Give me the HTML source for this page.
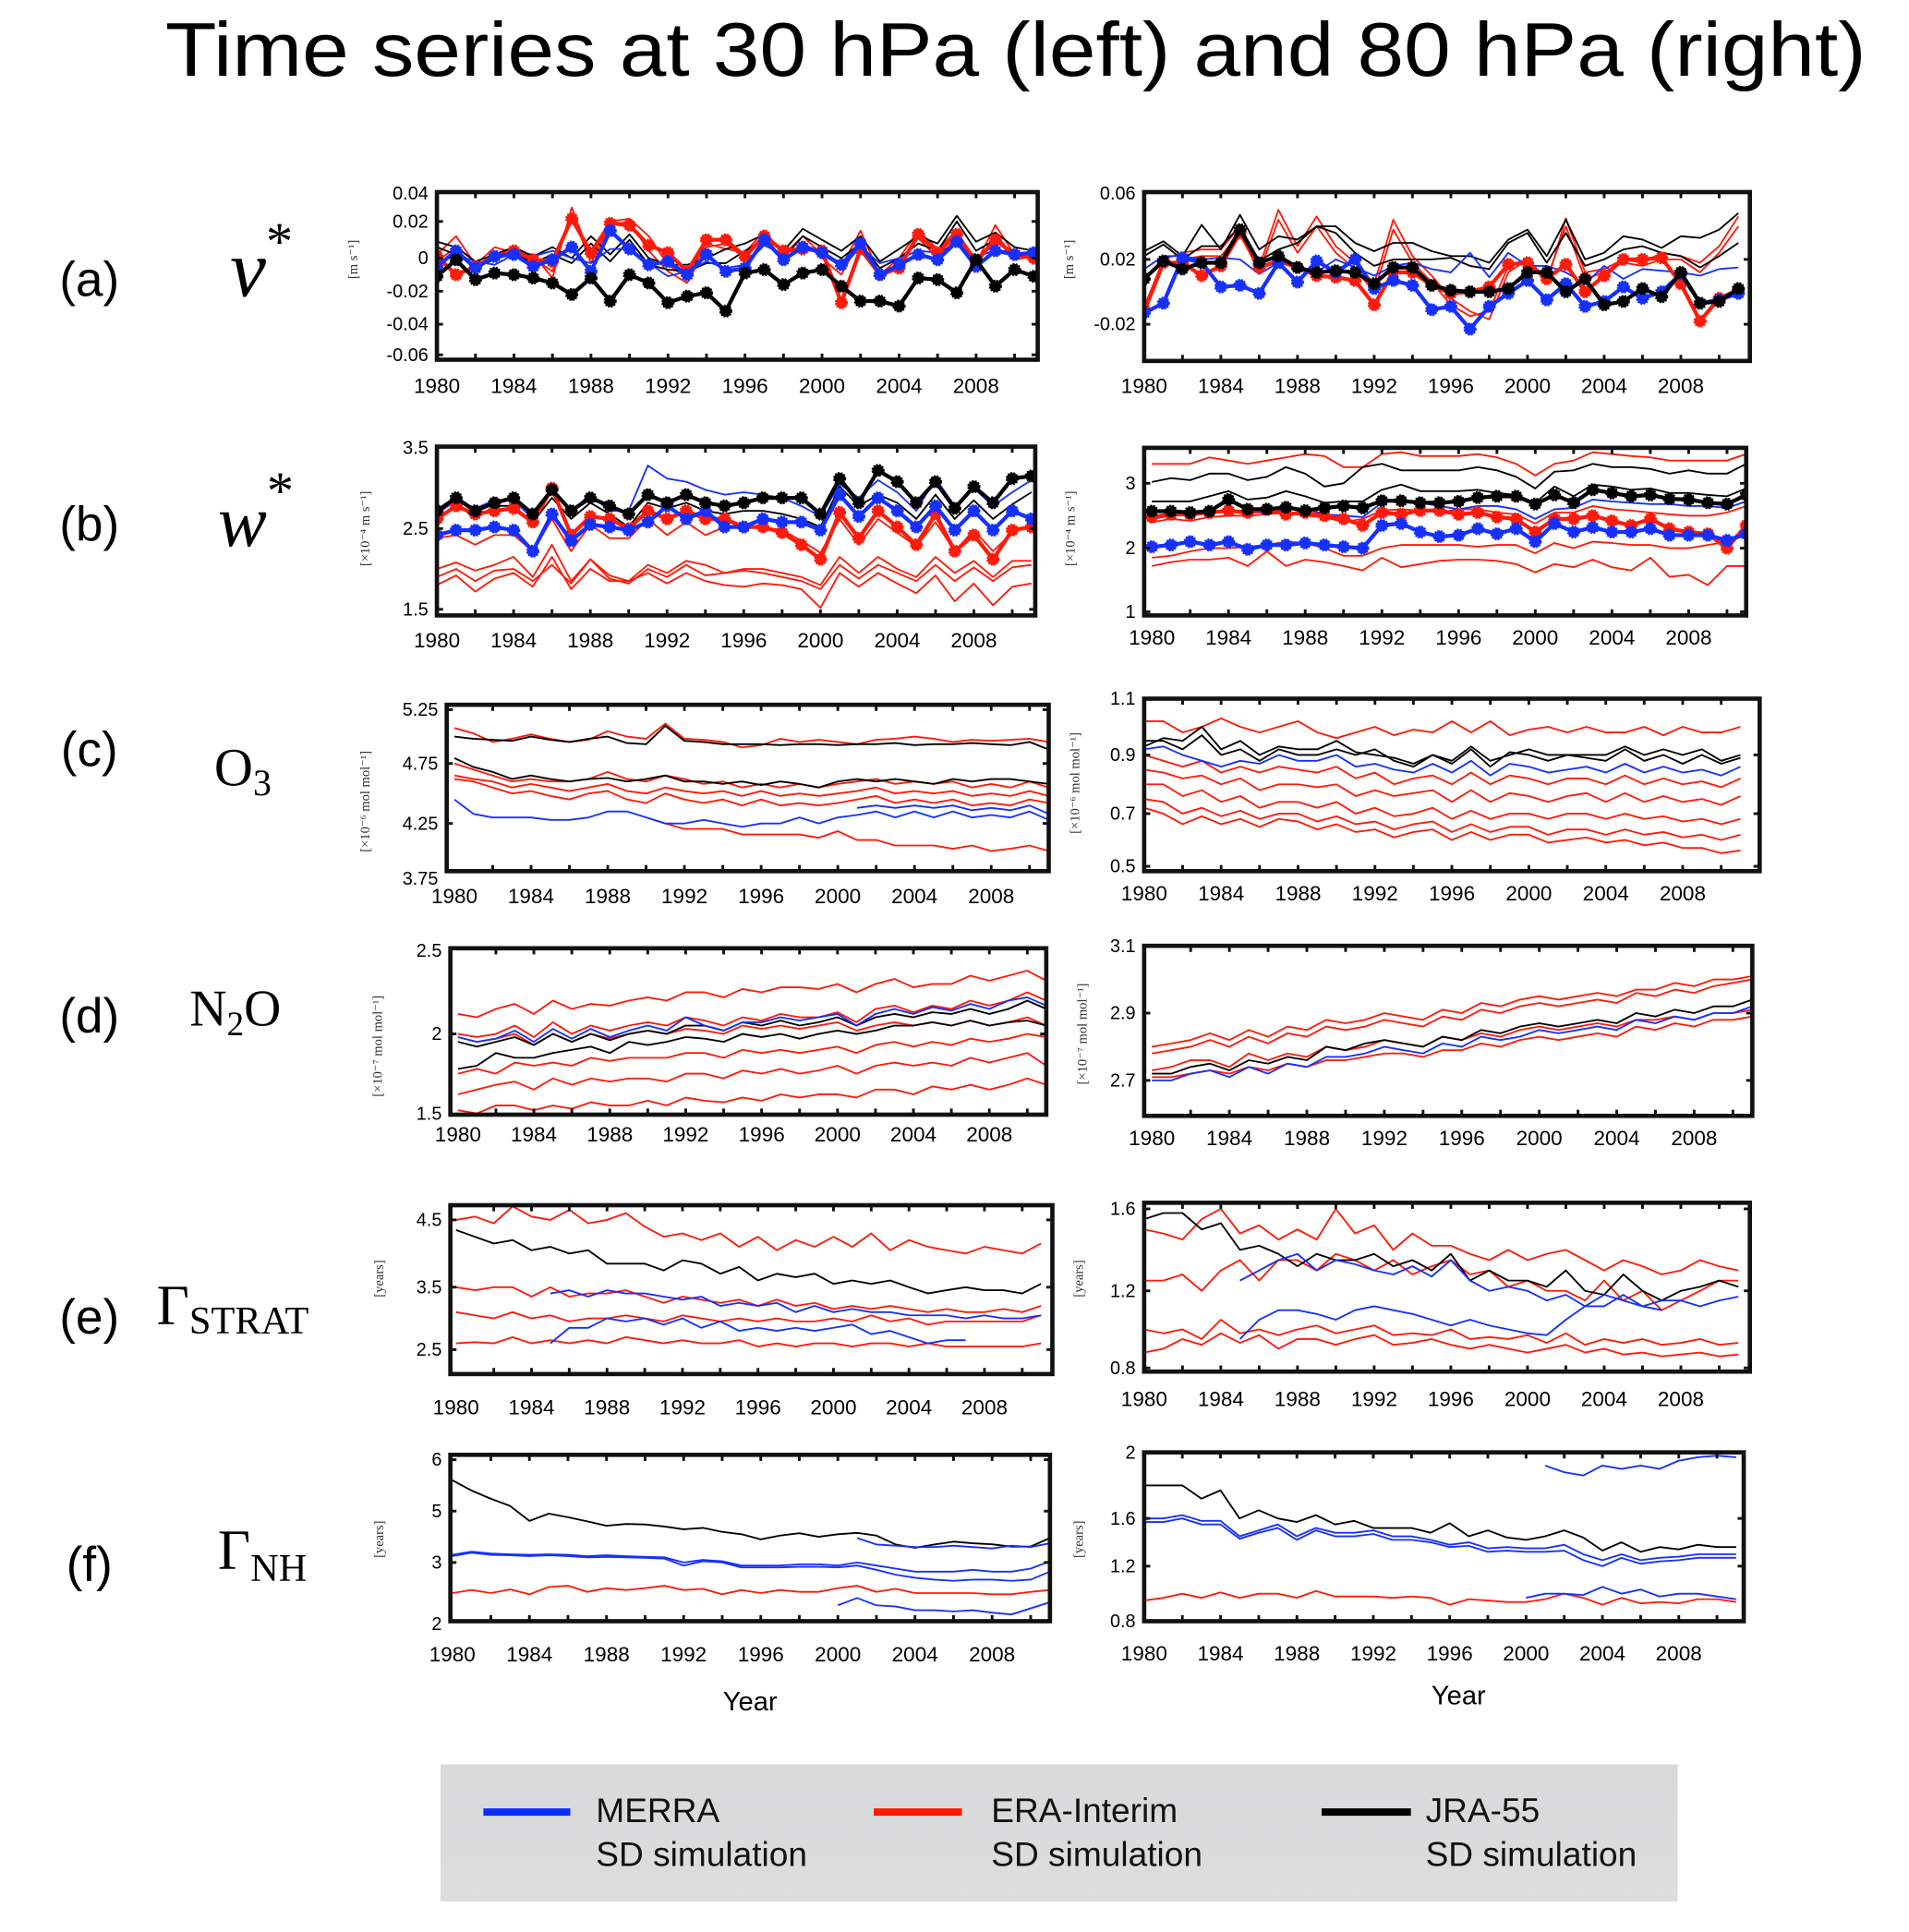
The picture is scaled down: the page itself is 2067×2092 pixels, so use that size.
<!DOCTYPE html>
<html><head><meta charset="utf-8"><style>
html,body{margin:0;padding:0;background:#fff;}
svg{display:block;}
</style></head><body>
<svg id="fig" xmlns="http://www.w3.org/2000/svg" width="2067" height="2092" viewBox="0 0 1560 1579">
<rect x="0" y="0" width="1560" height="1579" fill="#fff"/>
<text x="830" y="62" text-anchor="middle" font-family="Liberation Sans, sans-serif" font-size="62" textLength="1390" lengthAdjust="spacingAndGlyphs">Time series at 30 hPa (left) and 80 hPa (right)</text>
<g font-family="Liberation Sans, sans-serif" font-size="40">
<text x="73" y="242" text-anchor="middle">(a)</text>
<text x="73" y="442" text-anchor="middle">(b)</text>
<text x="73" y="626" text-anchor="middle">(c)</text>
<text x="73" y="844" text-anchor="middle">(d)</text>
<text x="73" y="1090" text-anchor="middle">(e)</text>
<text x="73" y="1292" text-anchor="middle">(f)</text>
</g>
<g font-family="Liberation Serif, serif">
<text x="188" y="242" font-size="66" font-style="italic">v<tspan font-size="44" font-style="normal" dy="-30">*</tspan></text>
<text x="178" y="446" font-size="60" font-style="italic">w<tspan font-size="44" font-style="normal" dy="-30">*</tspan></text>
<text x="175" y="642" font-size="44">O<tspan font-size="30" dy="8">3</tspan></text>
<text x="155" y="838" font-size="42">N<tspan font-size="28" dy="8">2</tspan><tspan font-size="42" dy="-8">O</tspan></text>
<text x="128" y="1082" font-size="46">Γ<tspan font-size="32" dy="8">STRAT</tspan></text>
<text x="178" y="1282" font-size="46">Γ<tspan font-size="32" dy="10">NH</tspan></text>
</g>
<g id="panels"></g>
<text x="613" y="1398" text-anchor="middle" font-family="Liberation Sans, sans-serif" font-size="22">Year</text>
<text x="1192" y="1393" text-anchor="middle" font-family="Liberation Sans, sans-serif" font-size="22">Year</text>
<g>
<defs><linearGradient id="lg" x1="0" y1="0" x2="0" y2="1"><stop offset="0" stop-color="#d8d9da"/><stop offset="1" stop-color="#dcdddd"/></linearGradient></defs>
<rect x="360" y="1442" width="1011" height="112" fill="url(#lg)"/>
<line x1="395" y1="1481" x2="466" y2="1481" stroke="#0a2cff" stroke-width="6"/>
<line x1="714" y1="1481" x2="786" y2="1481" stroke="#ff1a00" stroke-width="6"/>
<line x1="1080" y1="1481" x2="1153" y2="1481" stroke="#000" stroke-width="6"/>
<g font-family="Liberation Sans, sans-serif" font-size="28" fill="#111">
<text x="487" y="1489">MERRA</text>
<text x="487" y="1525">SD simulation</text>
<text x="810" y="1489">ERA-Interim</text>
<text x="810" y="1525">SD simulation</text>
<text x="1165" y="1489">JRA-55</text>
<text x="1165" y="1525">SD simulation</text>
</g>
</g>
</svg>
<script>
// ===== DATA (years 1980..2011) =====
const years = [1980,1981,1982,1983,1984,1985,1986,1987,1988,1989,1990,1991,1992,1993,1994,1995,1996,1997,1998,1999,2000,2001,2002,2003,2004,2005,2006,2007,2008,2009,2010,2011];
const xTickYears = [1980,1984,1988,1992,1996,2000,2004,2008];
const N = null;
// (a) left v* 30 hPa
const la_jraThick = [-0.011,-0.001,-0.013,-0.009,-0.01,-0.012,-0.015,-0.022,-0.012,-0.026,-0.01,-0.015,-0.027,-0.023,-0.021,-0.032,-0.009,-0.007,-0.016,-0.009,-0.007,-0.017,-0.026,-0.026,-0.029,-0.012,-0.013,-0.021,-0.001,-0.017,-0.007,-0.011];
const la_merraThick = [-0.005,0.004,-0.006,0.001,0.002,-0.005,-0.001,0.006,-0.008,0.015,0.005,-0.004,-0.002,-0.01,0.002,-0.008,-0.006,0.01,-0.001,0.006,0.003,-0.004,0.008,-0.01,-0.004,0.002,-0.001,0.009,-0.005,0.004,0.002,0.003];
const la_eraThick = [0.001,-0.01,-0.005,0.001,0.004,-0.001,-0.002,0.022,0.003,0.019,0.018,0.007,0.003,-0.008,0.01,0.01,0.001,0.012,0.004,0.005,0.004,-0.027,0.005,-0.01,-0.006,0.013,0.003,0.013,-0.002,0.01,0.002,0.0];
const la_era1 = [0.002,0.012,-0.004,0.006,0.003,0.002,-0.012,0.03,0.0,0.02,0.022,0.012,-0.004,-0.012,0.008,0.005,0.003,0.015,0.002,0.012,0.002,-0.005,0.015,-0.01,0.0,0.015,0.005,0.015,-0.003,0.018,0.002,0.004];
const la_era2 = [-0.002,0.006,-0.008,0.002,0.006,0.0,-0.008,0.026,-0.003,0.018,0.02,0.004,-0.008,-0.015,0.006,0.008,0.0,0.013,-0.002,0.009,0.0,-0.01,0.01,-0.013,-0.003,0.011,0.0,0.011,-0.006,0.014,-0.001,0.001];
const la_jra1 = [0.009,0.006,-0.002,0.002,0.006,0.001,0.006,0.0,0.012,0.002,0.013,0.0,-0.004,-0.004,0.0,0.005,0.008,0.013,0.004,0.016,0.01,0.004,0.012,-0.002,0.005,0.012,0.008,0.024,0.009,0.014,0.006,0.004];
const la_jra2 = [0.006,0.002,-0.005,-0.001,0.003,-0.003,0.002,-0.003,0.008,-0.002,0.01,-0.004,-0.007,-0.008,-0.003,-0.003,0.004,0.01,0.0,0.012,0.006,0.0,0.008,-0.006,0.0,0.008,0.004,0.02,0.004,0.01,0.003,0.001];
const la_merra1 = [-0.003,0.002,-0.002,-0.004,0.002,0.001,0.004,0.0,-0.003,0.005,0.005,-0.003,-0.011,-0.008,-0.002,-0.006,-0.004,0.007,0.002,0.007,0.004,-0.006,0.006,-0.003,0.0,0.004,0.003,0.008,0.001,0.004,0.004,-0.002];
// (a) right v* 80 hPa
const ra_merraThick = [-0.013,-0.007,0.021,0.018,0.003,0.004,-0.001,0.018,0.006,0.019,0.012,0.02,0.002,0.007,0.004,-0.011,-0.009,-0.023,-0.009,-0.001,0.007,-0.005,0.005,-0.009,-0.006,0.003,-0.004,0.0,0.011,-0.007,-0.005,-0.001];
const ra_jraThick = [0.008,0.019,0.014,0.018,0.018,0.038,0.018,0.022,0.015,0.012,0.013,0.012,0.005,0.015,0.015,0.004,0.001,0.0,0.0,0.002,0.012,0.012,0.0,0.008,-0.008,-0.006,0.002,-0.003,0.012,-0.007,-0.006,0.002];
const ra_eraThick = [-0.011,0.018,0.018,0.01,0.016,0.036,0.015,0.019,0.015,0.01,0.009,0.007,-0.008,0.012,0.012,0.004,-0.001,0.0,0.003,0.017,0.018,0.008,0.017,0.0,0.01,0.02,0.02,0.021,0.005,-0.018,-0.004,0.001];
const ra_jra1 = [0.025,0.031,0.022,0.041,0.026,0.047,0.026,0.034,0.032,0.04,0.04,0.03,0.025,0.03,0.03,0.025,0.022,0.022,0.018,0.032,0.038,0.022,0.044,0.02,0.024,0.034,0.032,0.027,0.034,0.033,0.038,0.048];
const ra_jra2 = [0.022,0.029,0.02,0.028,0.028,0.04,0.019,0.026,0.03,0.04,0.036,0.024,0.016,0.02,0.02,0.02,0.021,0.016,0.014,0.03,0.036,0.018,0.036,0.016,0.02,0.026,0.028,0.024,0.022,0.015,0.022,0.03];
const ra_era1 = [-0.01,0.02,0.024,0.026,0.026,0.04,0.015,0.05,0.028,0.046,0.028,0.018,0.005,0.044,0.022,0.01,-0.004,-0.012,-0.017,0.012,0.02,0.005,0.045,0.012,0.014,0.02,0.018,0.024,0.022,0.018,0.028,0.046];
const ra_era2 = [-0.014,0.016,0.02,0.022,0.022,0.036,0.012,0.044,0.024,0.04,0.024,0.014,0.0,0.038,0.018,0.006,-0.008,-0.015,-0.012,0.016,0.02,0.008,0.04,0.008,0.012,0.018,0.016,0.02,0.02,0.012,0.024,0.04];
const ra_merra1 = [0.014,0.022,0.022,0.02,0.021,0.02,0.011,0.018,0.015,0.012,0.02,0.015,0.01,0.016,0.018,0.014,0.012,0.024,0.009,0.024,0.016,0.016,0.012,0.005,0.016,0.008,0.014,0.013,0.012,0.01,0.014,0.015];
// (b) left w* 30 hPa
const lb_jraThick = [2.72,2.88,2.72,2.82,2.88,2.68,2.98,2.72,2.88,2.78,2.68,2.92,2.82,2.92,2.82,2.78,2.82,2.88,2.88,2.88,2.68,3.12,2.82,3.22,3.08,2.82,3.08,2.75,3.02,2.82,3.12,3.15];
const lb_merraThick = [2.42,2.48,2.48,2.52,2.48,2.22,2.68,2.35,2.55,2.52,2.48,2.58,2.78,2.62,2.72,2.52,2.52,2.62,2.58,2.58,2.48,2.92,2.65,2.88,2.72,2.52,2.78,2.48,2.72,2.48,2.72,2.62];
const lb_eraThick = [2.62,2.78,2.68,2.72,2.75,2.58,3.0,2.42,2.65,2.62,2.5,2.72,2.62,2.72,2.62,2.62,2.52,2.52,2.45,2.3,2.12,2.7,2.38,2.72,2.52,2.3,2.68,2.22,2.42,2.12,2.48,2.52];
const lb_merra1 = [2.68,2.85,2.75,2.85,2.85,2.62,2.98,2.72,2.92,2.72,2.72,3.28,3.12,3.08,2.98,2.92,2.95,2.92,2.88,2.78,2.65,3.05,2.88,3.1,2.95,2.72,3.12,2.78,3.0,2.78,2.95,3.1];
const lb_jra1 = [2.58,2.82,2.62,2.78,2.78,2.58,2.88,2.62,2.82,2.68,2.52,2.82,2.75,2.82,2.72,2.68,2.72,2.72,2.68,2.62,2.52,3.02,2.78,2.92,2.82,2.62,2.92,2.62,2.85,2.62,2.8,2.95];
const lb_era1 = [2.38,2.42,2.3,2.42,2.42,2.22,2.62,2.22,2.55,2.38,2.38,2.62,2.42,2.58,2.42,2.52,2.52,2.52,2.48,2.35,2.2,2.62,2.3,2.62,2.45,2.28,2.58,2.22,2.48,2.22,2.45,2.55];
const lb_era2 = [2.0,2.08,1.98,2.05,2.15,1.9,2.3,1.85,2.12,1.92,1.85,2.05,1.95,2.1,2.05,1.95,2.0,2.0,1.95,1.9,1.8,2.15,1.95,2.15,2.0,1.9,2.15,1.95,2.1,1.9,2.1,2.1];
const lb_era3 = [1.9,2.0,1.85,1.98,2.0,1.85,2.05,1.82,2.12,1.88,1.82,2.0,1.9,2.05,1.92,1.95,1.98,1.95,1.9,1.85,1.75,2.05,1.88,2.05,1.95,1.85,2.05,1.85,2.02,1.85,2.02,2.05];
const lb_era4 = [1.8,1.92,1.72,1.88,1.95,1.78,2.15,1.75,2.0,1.85,1.85,1.95,1.82,1.95,1.85,1.8,1.78,1.82,1.8,1.75,1.52,1.95,1.78,1.95,1.82,1.7,1.92,1.6,1.82,1.55,1.78,1.82];
// (b) right w* 80 hPa
const rb_jraThick = [2.57,2.57,2.55,2.57,2.75,2.6,2.6,2.63,2.58,2.62,2.65,2.62,2.73,2.73,2.7,2.7,2.72,2.78,2.8,2.8,2.68,2.82,2.7,2.9,2.85,2.8,2.82,2.76,2.75,2.7,2.68,2.82];
const rb_merraThick = [2.02,2.05,2.1,2.05,2.1,1.98,2.05,2.05,2.08,2.05,2.02,2.0,2.35,2.38,2.25,2.18,2.2,2.3,2.22,2.3,2.1,2.38,2.25,2.32,2.25,2.25,2.3,2.2,2.2,2.2,2.12,2.22];
const rb_eraThick = [2.48,2.52,2.52,2.55,2.58,2.55,2.6,2.52,2.55,2.5,2.45,2.35,2.55,2.52,2.58,2.58,2.52,2.55,2.48,2.45,2.25,2.45,2.45,2.5,2.42,2.35,2.45,2.3,2.25,2.22,2.0,2.35];
const rb_era1 = [3.3,3.3,3.3,3.4,3.35,3.3,3.35,3.4,3.45,3.42,3.25,3.25,3.45,3.48,3.42,3.42,3.42,3.45,3.4,3.3,3.12,3.3,3.35,3.48,3.45,3.42,3.4,3.35,3.35,3.35,3.35,3.45];
const rb_jra1 = [3.02,3.08,3.05,3.15,3.15,3.05,3.1,3.25,3.15,2.95,3.0,3.25,3.3,3.2,3.2,3.2,3.2,3.25,3.2,3.1,2.92,3.18,3.2,3.3,3.25,3.25,3.22,3.15,3.2,3.15,3.15,3.3];
const rb_jra2 = [2.72,2.72,2.72,2.8,2.88,2.75,2.78,2.88,2.8,2.7,2.72,2.72,2.9,2.98,2.88,2.88,2.88,2.9,2.85,2.82,2.7,2.95,2.8,2.98,2.95,2.9,2.92,2.85,2.85,2.82,2.8,2.92];
const rb_merra1 = [2.45,2.5,2.55,2.55,2.6,2.55,2.55,2.6,2.62,2.52,2.5,2.48,2.7,2.75,2.7,2.65,2.6,2.65,2.65,2.6,2.45,2.6,2.62,2.75,2.72,2.7,2.68,2.68,2.65,2.65,2.62,2.72];
const rb_era2 = [2.4,2.45,2.42,2.48,2.5,2.5,2.52,2.55,2.5,2.48,2.4,2.45,2.58,2.6,2.58,2.55,2.6,2.6,2.55,2.52,2.38,2.55,2.55,2.65,2.6,2.58,2.55,2.52,2.5,2.5,2.55,2.65];
const rb_era3 = [1.85,1.88,1.95,2.0,2.0,2.02,2.05,2.1,2.08,2.0,1.88,1.88,2.0,2.05,2.05,2.05,2.05,2.02,2.05,2.05,1.92,2.08,2.0,2.1,2.08,2.05,2.05,2.0,2.0,2.05,2.1,2.2];
const rb_era4 = [1.72,1.78,1.82,1.82,1.85,1.72,1.95,1.72,1.82,1.78,1.72,1.65,1.85,1.7,1.75,1.8,1.82,1.82,1.8,1.75,1.62,1.75,1.7,1.82,1.7,1.65,1.85,1.55,1.58,1.42,1.72,1.72];
// (c) left O3 30 hPa
const lc_jra1 = [5.0,4.98,4.97,4.96,5.0,4.97,4.95,4.98,5.0,4.94,4.93,5.1,4.96,4.95,4.93,4.93,4.93,4.92,4.93,4.93,4.92,4.93,4.93,4.94,4.92,4.93,4.93,4.94,4.93,4.92,4.95,4.88];
const lc_era1 = [5.08,5.03,4.95,4.98,5.02,4.98,4.95,4.97,5.05,5.0,4.98,5.12,4.98,4.97,4.95,4.9,4.92,4.98,4.95,4.97,4.95,4.93,4.97,4.98,5.0,4.98,4.95,4.97,4.96,4.97,4.98,4.95];
const lc_jra2 = [4.8,4.72,4.68,4.62,4.65,4.62,4.6,4.62,4.63,4.6,4.62,4.65,4.6,4.6,4.58,4.6,4.57,4.6,4.58,4.55,4.6,4.62,4.6,4.62,4.6,4.58,4.62,4.6,4.62,4.62,4.6,4.58];
const lc_era2 = [4.75,4.7,4.65,4.6,4.62,4.6,4.6,4.62,4.68,4.62,4.6,4.65,4.62,4.58,4.6,4.55,4.58,4.55,4.58,4.55,4.58,4.6,4.62,4.58,4.6,4.58,4.6,4.55,4.58,4.55,4.6,4.55];
const lc_era3 = [4.65,4.62,4.6,4.55,4.58,4.55,4.52,4.55,4.58,4.52,4.5,4.55,4.52,4.5,4.52,4.48,4.52,4.48,4.5,4.48,4.5,4.52,4.55,4.5,4.52,4.5,4.52,4.48,4.5,4.48,4.52,4.48];
const lc_era4 = [4.62,4.6,4.55,4.5,4.52,4.48,4.45,4.5,4.52,4.45,4.42,4.5,4.45,4.42,4.45,4.4,4.45,4.4,4.42,4.4,4.42,4.45,4.48,4.42,4.45,4.42,4.45,4.4,4.42,4.4,4.45,4.42];
const lc_merra1 = [4.45,4.33,4.3,4.3,4.3,4.28,4.28,4.3,4.35,4.35,4.3,4.25,4.25,4.28,4.25,4.22,4.25,4.25,4.3,4.25,4.3,4.32,4.35,4.3,4.35,4.3,4.35,4.3,4.32,4.3,4.35,4.28];
const lc_merra2 = [N,N,N,N,N,N,N,N,N,N,N,N,N,N,N,N,N,N,N,N,N,4.38,4.4,4.38,4.4,4.38,4.4,4.36,4.38,4.36,4.4,4.33];
const lc_era5 = [N,N,N,N,N,N,N,N,N,N,4.3,4.25,4.2,4.2,4.2,4.15,4.15,4.15,4.15,4.12,4.18,4.1,4.1,4.05,4.05,4.05,4.02,4.05,4.0,4.02,4.05,4.0];
// (c) right O3 80 hPa
const rc_jra1 = [0.95,0.95,0.92,0.97,0.9,0.92,0.88,0.92,0.9,0.9,0.92,0.9,0.92,0.88,0.86,0.9,0.88,0.93,0.88,0.9,0.92,0.9,0.9,0.9,0.9,0.93,0.9,0.92,0.9,0.92,0.88,0.9];
const rc_jra2 = [0.93,0.96,0.95,1.0,0.92,0.95,0.9,0.93,0.92,0.92,0.95,0.91,0.9,0.89,0.87,0.9,0.87,0.92,0.86,0.91,0.9,0.88,0.9,0.89,0.88,0.92,0.88,0.9,0.87,0.9,0.87,0.89];
const rc_era1 = [1.02,1.02,0.98,1.0,1.03,1.0,0.98,1.0,1.02,0.98,0.96,0.98,1.0,0.97,0.99,0.98,1.02,0.98,1.02,0.97,0.99,1.0,0.98,1.0,0.98,0.98,1.0,0.97,1.0,0.98,0.98,1.0];
const rc_merra1 = [0.92,0.93,0.9,0.88,0.86,0.88,0.87,0.9,0.88,0.88,0.9,0.86,0.87,0.85,0.84,0.87,0.84,0.88,0.83,0.87,0.86,0.84,0.85,0.86,0.84,0.87,0.84,0.86,0.84,0.85,0.83,0.86];
const rc_era2 = [0.9,0.88,0.86,0.88,0.84,0.86,0.84,0.86,0.85,0.84,0.86,0.82,0.84,0.8,0.82,0.83,0.8,0.84,0.8,0.83,0.82,0.8,0.82,0.82,0.8,0.83,0.8,0.82,0.8,0.81,0.79,0.82];
const rc_era3 = [0.85,0.84,0.82,0.83,0.8,0.82,0.78,0.8,0.8,0.79,0.8,0.76,0.78,0.76,0.77,0.78,0.74,0.78,0.74,0.77,0.76,0.74,0.76,0.77,0.74,0.77,0.74,0.76,0.74,0.75,0.73,0.76];
const rc_era4 = [0.8,0.8,0.76,0.78,0.74,0.76,0.72,0.74,0.74,0.72,0.74,0.7,0.72,0.69,0.7,0.72,0.68,0.71,0.68,0.7,0.7,0.68,0.7,0.7,0.68,0.7,0.68,0.69,0.67,0.68,0.66,0.68];
const rc_era5 = [0.75,0.74,0.7,0.72,0.69,0.71,0.68,0.7,0.7,0.67,0.69,0.66,0.67,0.64,0.66,0.67,0.63,0.66,0.63,0.65,0.65,0.62,0.64,0.64,0.62,0.64,0.62,0.63,0.61,0.62,0.6,0.62];
const rc_era6 = [0.72,0.7,0.66,0.69,0.66,0.68,0.65,0.68,0.67,0.64,0.66,0.63,0.64,0.61,0.63,0.64,0.6,0.63,0.6,0.62,0.62,0.59,0.6,0.61,0.59,0.6,0.58,0.59,0.57,0.57,0.55,0.56];
// (d) left N2O 30 hPa
const ld_jra1 = [1.95,1.92,1.95,1.98,1.93,2.0,1.95,2.0,1.96,2.0,2.02,2.0,2.05,2.05,2.02,2.07,2.05,2.08,2.05,2.07,2.1,2.05,2.1,2.12,2.1,2.13,2.12,2.15,2.12,2.15,2.2,2.15];
const ld_jra2 = [1.78,1.8,1.88,1.85,1.85,1.88,1.9,1.92,1.88,1.95,1.93,1.95,1.98,1.97,1.95,2.0,1.98,2.0,1.97,2.0,2.02,2.0,2.02,2.05,2.05,2.07,2.05,2.08,2.05,2.07,2.08,2.05];
const ld_merra1 = [1.98,1.95,1.97,2.02,1.95,2.03,1.97,2.03,1.98,2.02,2.05,2.02,2.1,2.05,2.02,2.07,2.07,2.1,2.08,2.1,2.12,2.05,2.12,2.15,2.12,2.16,2.14,2.18,2.15,2.2,2.22,2.17];
const ld_era1 = [2.12,2.1,2.15,2.18,2.12,2.2,2.15,2.18,2.17,2.2,2.22,2.2,2.25,2.25,2.22,2.27,2.25,2.28,2.28,2.27,2.3,2.25,2.3,2.33,2.28,2.3,2.3,2.35,2.32,2.35,2.38,2.32];
const ld_era2 = [2.0,1.98,2.0,2.05,1.98,2.07,2.0,2.05,2.02,2.05,2.07,2.05,2.1,2.08,2.05,2.1,2.08,2.12,2.1,2.1,2.13,2.07,2.15,2.17,2.13,2.17,2.15,2.2,2.17,2.2,2.25,2.2];
const ld_era3 = [1.75,1.78,1.75,1.82,1.8,1.82,1.8,1.85,1.83,1.85,1.85,1.85,1.88,1.88,1.85,1.9,1.88,1.9,1.88,1.9,1.92,1.88,1.93,1.95,1.92,1.95,1.93,1.97,1.95,1.97,2.0,1.98];
const ld_era4 = [1.62,1.65,1.68,1.7,1.65,1.72,1.68,1.72,1.7,1.72,1.72,1.7,1.75,1.75,1.72,1.77,1.75,1.78,1.75,1.77,1.8,1.75,1.8,1.82,1.8,1.82,1.8,1.85,1.82,1.85,1.88,1.8];
const ld_era5 = [1.52,1.5,1.55,1.55,1.52,1.55,1.53,1.57,1.55,1.55,1.58,1.55,1.6,1.58,1.57,1.6,1.58,1.62,1.6,1.62,1.62,1.6,1.65,1.65,1.62,1.67,1.65,1.68,1.65,1.68,1.72,1.68];
const ld_era6 = [1.98,1.95,1.97,2.0,1.93,2.0,1.95,2.0,1.97,2.0,2.02,2.0,2.03,2.02,2.0,2.05,2.03,2.05,2.03,2.05,2.07,2.02,2.05,2.07,2.05,2.07,2.05,2.08,2.05,2.07,2.1,2.05];
// (d) right N2O 80 hPa
const rd_jra1 = [2.72,2.72,2.74,2.75,2.73,2.76,2.75,2.77,2.76,2.8,2.79,2.81,2.82,2.81,2.8,2.83,2.82,2.85,2.84,2.86,2.87,2.86,2.87,2.88,2.87,2.9,2.89,2.91,2.9,2.92,2.92,2.94];
const rd_merra1 = [2.7,2.7,2.72,2.73,2.71,2.74,2.72,2.75,2.74,2.77,2.77,2.78,2.8,2.79,2.78,2.81,2.8,2.83,2.82,2.83,2.85,2.84,2.85,2.86,2.85,2.88,2.87,2.89,2.88,2.9,2.9,2.92];
const rd_era1 = [2.8,2.81,2.82,2.84,2.82,2.85,2.83,2.86,2.85,2.88,2.87,2.88,2.9,2.89,2.88,2.91,2.9,2.93,2.92,2.94,2.95,2.94,2.95,2.96,2.95,2.97,2.97,2.99,2.98,3.0,3.0,3.01];
const rd_era2 = [2.78,2.79,2.8,2.82,2.8,2.83,2.81,2.84,2.83,2.86,2.85,2.86,2.88,2.87,2.86,2.89,2.88,2.91,2.9,2.92,2.93,2.92,2.93,2.94,2.93,2.96,2.95,2.97,2.96,2.98,2.99,3.0];
const rd_era3 = [2.73,2.74,2.76,2.76,2.74,2.78,2.76,2.78,2.77,2.8,2.79,2.8,2.82,2.81,2.8,2.83,2.82,2.84,2.83,2.85,2.86,2.85,2.86,2.87,2.86,2.88,2.88,2.89,2.88,2.9,2.9,2.91];
const rd_era4 = [2.71,2.71,2.72,2.73,2.72,2.74,2.73,2.75,2.74,2.76,2.76,2.77,2.78,2.78,2.77,2.79,2.79,2.81,2.8,2.82,2.83,2.82,2.83,2.84,2.83,2.86,2.85,2.87,2.86,2.88,2.88,2.89];
// (e) left Gamma STRAT 30 hPa
const le_era1 = [4.5,4.55,4.45,4.7,4.55,4.5,4.65,4.45,4.5,4.6,4.4,4.25,4.3,4.2,4.3,4.1,4.25,4.05,4.2,4.1,4.25,4.1,4.3,4.05,4.2,4.1,4.05,4.0,4.1,4.05,4.0,4.15];
const le_jra1 = [4.35,4.25,4.15,4.2,4.05,4.1,4.0,4.05,3.85,3.85,3.85,3.75,3.9,3.85,3.7,3.8,3.6,3.7,3.65,3.7,3.55,3.6,3.55,3.6,3.5,3.4,3.45,3.5,3.45,3.45,3.4,3.55];
const le_era2 = [3.5,3.45,3.5,3.5,3.35,3.5,3.35,3.4,3.4,3.45,3.35,3.25,3.35,3.3,3.25,3.3,3.2,3.3,3.2,3.25,3.15,3.2,3.15,3.2,3.15,3.1,3.15,3.1,3.1,3.15,3.1,3.2];
const le_merra1 = [N,N,N,N,N,3.4,3.45,3.35,3.45,3.4,3.4,3.35,3.3,3.35,3.2,3.25,3.2,3.25,3.1,3.2,3.1,3.15,3.1,3.1,3.05,3.05,3.05,3.0,3.05,3.0,3.0,3.05];
const le_merra2 = [N,N,N,N,N,2.6,2.85,2.85,3.0,2.95,3.0,2.9,3.0,2.85,2.95,2.8,2.85,2.8,2.85,2.8,2.85,2.9,2.75,2.8,2.7,2.6,2.65,2.65,N,N,N,N];
const le_era3 = [3.1,3.05,3.0,3.1,3.0,3.05,2.95,3.0,3.0,3.05,3.0,2.95,3.05,3.0,2.95,3.0,2.95,3.0,2.95,2.95,3.0,2.95,3.05,2.95,3.0,2.9,2.95,2.95,2.95,2.95,2.95,3.05];
const le_era4 = [2.6,2.62,2.6,2.7,2.6,2.65,2.6,2.65,2.6,2.7,2.65,2.6,2.65,2.6,2.6,2.65,2.55,2.6,2.55,2.6,2.6,2.55,2.6,2.6,2.55,2.6,2.55,2.55,2.55,2.55,2.55,2.6];
// (e) right Gamma 80 hPa
const re_jra1 = [1.55,1.58,1.58,1.5,1.53,1.4,1.42,1.38,1.32,1.38,1.35,1.35,1.38,1.32,1.35,1.3,1.38,1.25,1.3,1.25,1.25,1.22,1.3,1.2,1.18,1.28,1.2,1.15,1.2,1.22,1.25,1.22];
const re_era1 = [1.5,1.48,1.45,1.55,1.6,1.48,1.52,1.45,1.5,1.45,1.6,1.48,1.52,1.4,1.48,1.42,1.42,1.38,1.35,1.4,1.35,1.38,1.4,1.35,1.3,1.35,1.32,1.28,1.3,1.35,1.32,1.3];
const re_era2 = [1.25,1.25,1.28,1.2,1.3,1.35,1.25,1.35,1.35,1.3,1.38,1.35,1.3,1.35,1.28,1.32,1.35,1.28,1.3,1.22,1.25,1.2,1.2,1.15,1.25,1.15,1.2,1.1,1.15,1.2,1.25,1.25];
const re_merra1 = [N,N,N,N,N,1.25,1.3,1.35,1.38,1.3,1.35,1.33,1.3,1.28,1.32,1.27,1.35,1.25,1.2,1.22,1.2,1.15,1.18,1.12,1.12,1.18,1.12,1.15,1.15,1.12,1.15,1.17];
const re_merra2 = [N,N,N,N,N,0.95,1.05,1.1,1.1,1.08,1.05,1.1,1.12,1.1,1.08,1.05,1.02,1.05,1.02,1.0,0.98,0.97,1.05,1.12,1.18,1.15,1.12,1.1,N,N,N,N];
const re_era3 = [1.0,0.98,1.0,0.95,1.05,0.98,1.0,0.97,1.0,1.02,0.98,1.0,1.02,0.97,0.98,0.97,1.0,0.95,0.96,0.95,0.97,0.93,0.98,0.92,0.95,0.93,0.95,0.92,0.93,0.95,0.92,0.93];
const re_era4 = [0.88,0.9,0.95,0.92,0.98,0.93,0.97,0.9,0.95,0.95,0.92,0.95,0.97,0.92,0.93,0.95,0.92,0.9,0.92,0.9,0.88,0.9,0.92,0.88,0.9,0.87,0.88,0.86,0.87,0.88,0.86,0.87];
// (f) left Gamma NH 30 hPa
const lf_jra1 = [5.6,5.4,5.24,5.1,4.62,4.9,4.76,4.6,4.43,4.5,4.48,4.4,4.29,4.35,4.19,4.1,3.9,4.05,4.14,4.0,4.1,4.15,4.05,3.7,3.57,3.7,3.81,3.75,3.71,3.62,3.62,3.95];
const lf_merra1 = [3.3,3.42,3.35,3.32,3.3,3.32,3.3,3.25,3.28,3.25,3.22,3.2,3.0,3.1,3.05,2.95,2.95,2.95,2.97,2.97,2.95,3.0,2.95,2.9,2.85,2.85,2.85,2.88,2.85,2.85,2.9,3.05];
const lf_merra2 = [3.25,3.38,3.3,3.28,3.25,3.28,3.25,3.2,3.22,3.2,3.18,3.15,2.95,3.05,3.0,2.92,2.92,2.92,2.93,2.93,2.92,2.95,2.88,2.8,2.75,2.72,2.7,2.72,2.72,2.7,2.72,2.85];
const lf_merra3 = [N,N,N,N,N,N,N,N,N,N,N,N,N,N,N,N,N,N,N,N,N,3.95,3.7,3.65,3.6,3.6,3.65,3.6,3.55,3.65,3.6,3.75];
const lf_merra4 = [N,N,N,N,N,N,N,N,N,N,N,N,N,N,N,N,N,N,N,N,2.3,2.42,2.3,2.28,2.22,2.22,2.2,2.22,2.18,2.15,2.25,2.35];
const lf_era1 = [2.5,2.55,2.5,2.56,2.48,2.6,2.62,2.52,2.58,2.55,2.58,2.62,2.55,2.57,2.48,2.55,2.5,2.55,2.52,2.52,2.58,2.62,2.52,2.57,2.5,2.5,2.5,2.5,2.48,2.48,2.52,2.55];
// (f) right Gamma NH 80 hPa
const rf_jra1 = [1.8,1.8,1.8,1.72,1.77,1.6,1.65,1.6,1.57,1.62,1.55,1.58,1.52,1.52,1.52,1.48,1.56,1.45,1.5,1.44,1.42,1.45,1.5,1.44,1.33,1.4,1.32,1.36,1.34,1.38,1.36,1.36];
const rf_merra1 = [1.6,1.6,1.62,1.58,1.58,1.45,1.5,1.55,1.45,1.52,1.48,1.48,1.5,1.45,1.45,1.42,1.38,1.4,1.35,1.36,1.35,1.35,1.38,1.3,1.25,1.3,1.25,1.27,1.28,1.3,1.3,1.3];
const rf_merra2 = [1.57,1.57,1.6,1.55,1.55,1.43,1.48,1.52,1.42,1.5,1.45,1.45,1.47,1.42,1.42,1.4,1.36,1.37,1.32,1.33,1.32,1.32,1.33,1.25,1.2,1.27,1.22,1.24,1.25,1.27,1.27,1.27];
const rf_merra3 = [N,N,N,N,N,N,N,N,N,N,N,N,N,N,N,N,N,N,N,N,N,1.92,1.88,1.86,1.92,1.9,1.92,1.9,1.95,1.97,1.98,1.97];
const rf_merra4 = [N,N,N,N,N,N,N,N,N,N,N,N,N,N,N,N,N,N,N,N,0.97,1.0,1.0,0.99,1.05,1.0,1.03,0.98,1.0,1.0,0.98,0.96];
const rf_era1 = [0.95,0.97,1.0,0.97,1.01,0.97,1.0,1.0,0.97,1.02,0.98,0.98,0.98,0.97,0.98,0.97,0.92,0.96,0.95,0.94,0.94,0.96,1.0,0.97,0.92,0.97,0.93,0.94,0.93,0.96,0.96,0.94];

// ===== LAYOUT (styling only) =====
const BLUE = '#1530ff', RED = '#ff1a0a', BLACK = '#000';
const panels = [
 {id:'a-left', box:[357,157,848,294], xr:[1980,2011.2], yTicks:['0.04','0.02','0','-0.02','-0.04','-0.06'], yTickV:[0.04,0.02,0,-0.02,-0.04,-0.06], yTickPx:[158,181,211,238,265,290], xLabY:321, unit:'[m s⁻¹]', unitX:292, unitY:212,
  series:[[la_era1,RED,0],[la_era2,RED,0],[la_jra1,BLACK,0],[la_jra2,BLACK,0],[la_merra1,BLUE,0],[la_eraThick,RED,1],[la_merraThick,BLUE,1],[la_jraThick,BLACK,1]]},
 {id:'a-right', box:[935,157,1430,295], xr:[1980,2011.6], yTicks:['0.06','0.02','-0.02'], yTickV:[0.06,0.02,-0.02], yTickPx:[158,212,265], xLabY:321, unit:'[m s⁻¹]', unitX:877, unitY:212,
  series:[[ra_era1,RED,0],[ra_era2,RED,0],[ra_jra1,BLACK,0],[ra_jra2,BLACK,0],[ra_merra1,BLUE,0],[ra_eraThick,RED,1],[ra_merraThick,BLUE,1],[ra_jraThick,BLACK,1]]},
 {id:'b-left', box:[357,365,846,503], xr:[1980,2011.2], yTicks:['3.5','2.5','1.5'], yTickV:[3.5,2.5,1.5], yTickPx:[366,432,498], xLabY:529, unit:'[×10⁻⁴ m s⁻¹]', unitX:302, unitY:432,
  series:[[lb_era2,RED,0],[lb_era3,RED,0],[lb_era4,RED,0],[lb_era1,RED,0],[lb_jra1,BLACK,0],[lb_merra1,BLUE,0],[lb_eraThick,RED,1],[lb_merraThick,BLUE,1],[lb_jraThick,BLACK,1]]},
 {id:'b-right', box:[935,366,1427,503], xr:[1979.6,2011], yTicks:['3','2','1'], yTickV:[3,2,1], yTickPx:[395,448,500], xLabY:527, unit:'[×10⁻⁴ m s⁻¹]', unitX:878, unitY:432,
  series:[[rb_era1,RED,0],[rb_era2,RED,0],[rb_era3,RED,0],[rb_era4,RED,0],[rb_jra1,BLACK,0],[rb_jra2,BLACK,0],[rb_merra1,BLUE,0],[rb_eraThick,RED,1],[rb_merraThick,BLUE,1],[rb_jraThick,BLACK,1]]},
 {id:'c-left', box:[365,576,857,712], xr:[1979.6,2011], yTicks:['5.25','4.75','4.25','3.75'], yTickV:[5.25,4.75,4.25,3.75], yTickPx:[580,624,673,718], xLabY:738, unit:'[×10⁻⁶ mol mol⁻¹]', unitX:302, unitY:655,
  series:[[lc_era1,RED,0],[lc_era2,RED,0],[lc_era3,RED,0],[lc_era4,RED,0],[lc_era5,RED,0],[lc_jra1,BLACK,0],[lc_jra2,BLACK,0],[lc_merra1,BLUE,0],[lc_merra2,BLUE,0]]},
 {id:'c-right', box:[935,571,1438,712], xr:[1980,2012], yTicks:['1.1','0.9','0.7','0.5'], yTickV:[1.1,0.9,0.7,0.5], yTickPx:[571,617,665,708], xLabY:736, unit:'[×10⁻⁶ mol mol⁻¹]', unitX:882, unitY:640,
  series:[[rc_era1,RED,0],[rc_era2,RED,0],[rc_era3,RED,0],[rc_era4,RED,0],[rc_era5,RED,0],[rc_era6,RED,0],[rc_merra1,BLUE,0],[rc_jra1,BLACK,0],[rc_jra2,BLACK,0]]},
 {id:'d-left', box:[368,775,855,911], xr:[1979.6,2011], yTicks:['2.5','2','1.5'], yTickV:[2.5,2,1.5], yTickPx:[777,845,910], xLabY:933, unit:'[×10⁻⁷ mol mol⁻¹]', unitX:312, unitY:855,
  series:[[ld_era1,RED,0],[ld_era2,RED,0],[ld_era3,RED,0],[ld_era4,RED,0],[ld_era5,RED,0],[ld_era6,RED,0],[ld_jra1,BLACK,0],[ld_jra2,BLACK,0],[ld_merra1,BLUE,0]]},
 {id:'d-right', box:[935,773,1432,912], xr:[1979.6,2011], yTicks:['3.1','2.9','2.7'], yTickV:[3.1,2.9,2.7], yTickPx:[773,828,883], xLabY:936, unit:'[×10⁻⁷ mol mol⁻¹]', unitX:888, unitY:845,
  series:[[rd_era1,RED,0],[rd_era2,RED,0],[rd_era3,RED,0],[rd_era4,RED,0],[rd_merra1,BLUE,0],[rd_jra1,BLACK,0]]},
 {id:'e-left', box:[368,985,860,1123], xr:[1979.7,2011.6], yTicks:['4.5','3.5','2.5'], yTickV:[4.5,3.5,2.5], yTickPx:[997,1052,1103], xLabY:1156, unit:'[years]', unitX:313, unitY:1045,
  series:[[le_era1,RED,0],[le_era2,RED,0],[le_era3,RED,0],[le_era4,RED,0],[le_jra1,BLACK,0],[le_merra1,BLUE,0],[le_merra2,BLUE,0]]},
 {id:'e-right', box:[935,983,1430,1121], xr:[1980,2011.6], yTicks:['1.6','1.2','0.8'], yTickV:[1.6,1.2,0.8], yTickPx:[988,1055,1118], xLabY:1149, unit:'[years]', unitX:885, unitY:1045,
  series:[[re_era1,RED,0],[re_era2,RED,0],[re_era3,RED,0],[re_era4,RED,0],[re_jra1,BLACK,0],[re_merra1,BLUE,0],[re_merra2,BLUE,0]]},
 {id:'f-left', box:[368,1189,858,1325], xr:[1979.9,2011], yTicks:['6','5','3','2'], yTickV:[6,5,3,2], yTickPx:[1193,1235,1277,1327], xLabY:1358, unit:'[years]', unitX:313, unitY:1258,
  series:[[lf_era1,RED,0],[lf_jra1,BLACK,0],[lf_merra1,BLUE,0],[lf_merra2,BLUE,0],[lf_merra3,BLUE,0],[lf_merra4,BLUE,0]]},
 {id:'f-right', box:[935,1187,1425,1325], xr:[1980,2011.4], yTicks:['2','1.6','1.2','0.8'], yTickV:[2,1.6,1.2,0.8], yTickPx:[1187,1241,1280,1325], xLabY:1357, unit:'[years]', unitX:885, unitY:1258,
  series:[[rf_era1,RED,0],[rf_jra1,BLACK,0],[rf_merra1,BLUE,0],[rf_merra2,BLUE,0],[rf_merra3,BLUE,0],[rf_merra4,BLUE,0]]}
];

const NS = 'http://www.w3.org/2000/svg';
function mk(tag, attrs, parent){ const e=document.createElementNS(NS,tag); for(const k in attrs) e.setAttribute(k,attrs[k]); if(parent) parent.appendChild(e); return e; }
function xScale(p){ const [x0,,x1]=p.box; return yr => x0 + (yr-p.xr[0])/(p.xr[1]-p.xr[0])*(x1-x0); }
function yScale(p){
  const v=p.yTickV, px=p.yTickPx;
  return val => {
    let i=0;
    while(i<v.length-2 && !((val<=v[i] && val>=v[i+1]))) { if(val>v[0]) break; i++; }
    if(val>v[0]) i=0;
    if(val<v[v.length-1]) i=v.length-2;
    return px[i] + (val-v[i])/(v[i+1]-v[i])*(px[i+1]-px[i]);
  };
}
const root = document.getElementById('panels');
panels.forEach(p => {
  const g = mk('g',{},root);
  
  
  const X = xScale(p), Y = yScale(p);
  const [x0,y0,x1,y1] = p.box;
  const cid = 'clip-'+p.id;
  const cp = mk('clipPath',{id:cid},g); mk('rect',{x:x0,y:y0,width:x1-x0,height:y1-y0},cp);
  const plot = mk('g',{'clip-path':'url(#'+cid+')'},g);
  p.series.forEach((s,si) => {
    const [data,color,thick] = s;
    let d='', pen=false;
    data.forEach((v,i)=>{ if(v===null){pen=false;return;} d += (pen?'L':'M')+X(years[i]).toFixed(1)+' '+Y(v).toFixed(1)+' '; pen=true; });
    const path = mk('path',{d:d,fill:'none',stroke:color,'stroke-width':thick?3.2:1.4,'stroke-linejoin':'round'},plot);
    
    
    if(thick){
      data.forEach((v,i)=>{ if(v===null) return;
        const c = mk('circle',{cx:X(years[i]).toFixed(1),cy:Y(v).toFixed(1),r:4.6,fill:color,stroke:color,'stroke-width':1.5,'stroke-dasharray':'1.5 1'},plot);
        
        
      });
    }
  });
  // frame
  const fr = mk('rect',{x:x0,y:y0,width:x1-x0,height:y1-y0,fill:'none',stroke:'#111','stroke-width':3.5},g);
  
  
  // minor ticks every 2 years
  for(let yr=1982; yr<=2010; yr+=2){
    const xx=X(yr); if(xx<=x0+2||xx>=x1-2) continue;
    mk('line',{x1:xx,y1:y0,x2:xx,y2:y0+5,stroke:'#111','stroke-width':2.2},g);
    mk('line',{x1:xx,y1:y1,x2:xx,y2:y1-5,stroke:'#111','stroke-width':2.2},g);
  }
  p.yTickV.forEach(v=>{ const yy=Y(v); if(yy<=y0+2||yy>=y1-2) return;
    mk('line',{x1:x0,y1:yy,x2:x0+5,y2:yy,stroke:'#111','stroke-width':2.2},g);
    mk('line',{x1:x1,y1:yy,x2:x1-5,y2:yy,stroke:'#111','stroke-width':2.2},g);
  });
  // x tick labels
  xTickYears.forEach(yr=>{
    const t = mk('text',{x:X(yr).toFixed(1),y:p.xLabY,'text-anchor':'middle','font-family':'Liberation Sans, sans-serif','font-size':17},g);
    t.textContent = yr;
    
    
  });
  // y tick labels
  p.yTicks.forEach((lab,i)=>{
    const t = mk('text',{x:x0-7,y:Y(p.yTickV[i])+5,'text-anchor':'end','font-family':'Liberation Sans, sans-serif','font-size':15},g);
    t.textContent = lab;
    
    
  });
  const u = mk('text',{x:p.unitX,y:p.unitY,'text-anchor':'middle','font-family':'Liberation Serif, serif','font-size':11,transform:'rotate(-90 '+p.unitX+' '+p.unitY+')',fill:'#333'},g);
  u.textContent = p.unit;
  
  
});
</script>
</body></html>
